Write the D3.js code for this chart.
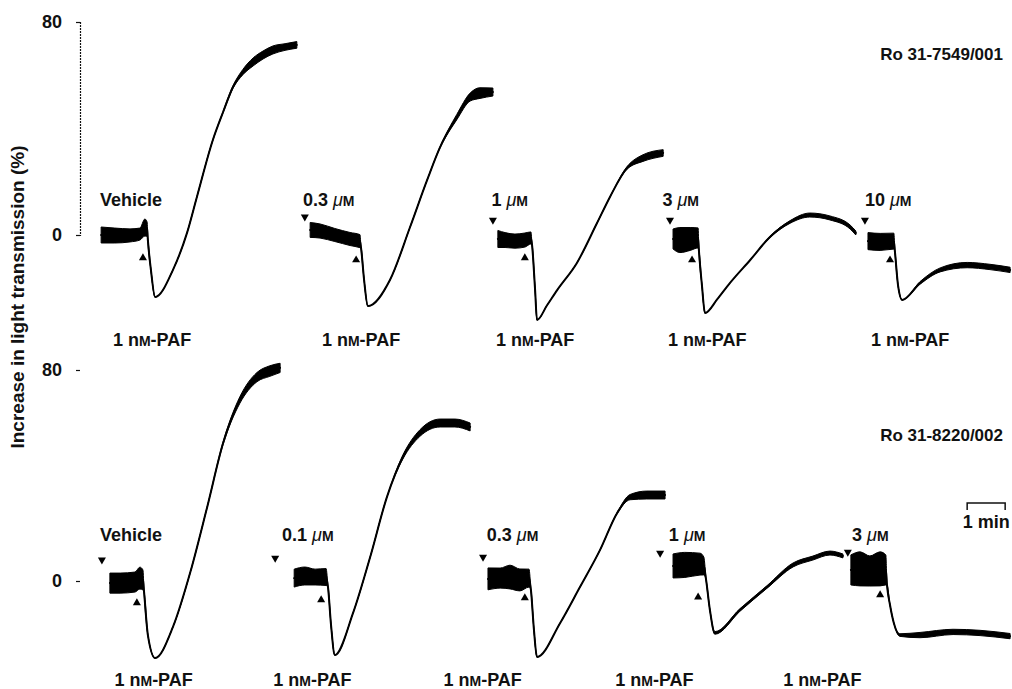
<!DOCTYPE html>
<html>
<head>
<meta charset="utf-8">
<script src="https://cdn.jsdelivr.net/npm/d3@7"></script>
<style>
  html, body { margin: 0; padding: 0; background: #fff; }
  svg { display: block; }
  text { font-family: "Liberation Sans", Arial, Helvetica, sans-serif; font-weight: bold; fill: #111; }
</style>
</head>
<body>
<svg id="chart" width="1012" height="689"></svg>
<script>
// Aggregation traces: [time (min), light transmission (%), noise band (% peak-to-peak)]
const topTraces = [
  // Vehicle
  [[0.03,0,6],[0.39,-0.2,5.6],[0.79,-0.15,4.9],[1.05,0.35,4.5],[1.18,2.8,6.4],[1.24,2.2,5.3],
   [1.26,-1.9,0],[1.34,-13.1,0],[1.45,-23.3,0],[1.92,-13.1,0],[2.29,0.8,0],[2.55,14.3,0],
   [2.97,35.7,0],[3.24,46.2,0.5],[3.5,55.6,1],[3.76,61.2,2],[4.03,65,3],[4.29,67.6,3],
   [4.55,69.5,3],[4.87,70.6,2.5],[5.18,71.4,2.5]],
  // 0.3 uM
  [[5.53,1.9,5.6],[5.79,1.5,5.3],[6.18,0,4.9],[6.58,-1.5,4.9],[6.84,-2.3,4.9],
   [6.87,-4.9,0],[6.95,-16.9,0],[7.05,-26.7,0],[7.63,-16.9,0],[8.16,3.0,0],[8.61,20.7,0],
   [8.95,33,0.5],[9.39,44.3,2],[9.74,51.8,3],[10.0,53.3,4],[10.34,53.7,3]],
  // 1 uM
  [[10.47,-1.5,6.4],[10.66,-1.9,5.6],[10.92,-2.3,5.3],[11.18,-1.9,5.3],[11.34,-1.1,4.5],
   [11.37,-3.8,0],[11.45,-20.7,0],[11.5,-31.9,0],[11.76,-26.5,0],[12.03,-20.7,0],[12.55,-10.5,0],
   [13.08,4.5,0],[13.42,14.3,0],[13.87,25.2,1],[14.29,28.9,2.5],[14.82,30.8,2.5]],
  // 3 uM
  [[15.08,-1.5,7.5],[15.26,-1.9,9.4],[15.53,-1.5,8.6],[15.74,-1.1,7.5],
   [15.76,-5.6,0],[15.84,-18.8,0],[15.92,-29.3,0],[16.25,-24,0],[16.58,-18,0],[17.11,-9.4,0],
   [17.63,-0.75,0.5],[18.16,4.9,1],[18.68,7.5,1.5],[19.21,6.4,1.5],[19.74,3,1.5],[19.89,0.75,1.5]],
  // 10 uM
  [[20.21,-2.3,6.4],[20.53,-2.6,6.4],[20.89,-2.3,6],
   [20.92,-6.4,0],[21.0,-18.8,0],[21.11,-24.4,0],[21.58,-18,1],[22.11,-13.1,1.5],
   [22.82,-11.3,2],[23.42,-12,2],[23.95,-13.1,2]]
];

const bottomTraces = [
  // Vehicle
  [[0.26,-0.8,7.6],[0.53,-0.8,7.6],[0.92,-0.4,7.6],[1.05,1.1,8.3],[1.13,0.4,7.6],
   [1.16,-4.2,0],[1.26,-20.5,0],[1.45,-29.2,0],[1.92,-17.4,0],[2.37,3,0],[2.82,28,0],
   [3.24,52.3,1],[3.68,68.6,2.5],[4.13,77.3,3.5],[4.47,79.6,4],[4.74,80.8,3.5]],
  // 0.1 uM
  [[5.11,1.1,6.8],[5.39,1.9,6.8],[5.66,1.5,6],[5.95,1.5,6.4],
   [6.0,-2.3,0],[6.08,-16.7,0],[6.18,-28.1,0],[6.66,-12.1,0],[7.11,9.1,0],[7.55,31.8,0],
   [7.97,47,1.5],[8.42,56.1,2.5],[8.95,59.9,3],[9.34,59.9,3],[9.74,58.4,3]],
  // 0.3 uM
  [[10.21,0.8,8.3],[10.53,1.1,7.6],[10.79,1.5,9],[11.05,0.4,8.3],[11.29,1.1,6.8],
   [11.34,-3.4,0],[11.42,-18.6,0],[11.5,-28.8,0],[12.11,-15.9,0],[12.63,-2.3,0],
   [13.16,11.8,0],[13.61,25.8,0.5],[13.95,31.8,2],[14.39,32.6,3],[14.87,32.6,3]],
  // 1 uM
  [[15.08,5.7,9.1],[15.39,6.1,9.5],[15.79,6.4,8.3],[15.89,5.7,6.8],
   [15.95,0.4,0],[16.05,-11,0],[16.18,-19.7,1],[16.84,-11,1],[17.55,-2.3,1],
   [18.24,6.1,1.5],[18.76,8.7,1.5],[19.21,10.6,1.5],[19.55,9.5,1.5]],
  // 3 uM
  [[19.76,4.2,11.4],[20.0,4.6,12.9],[20.26,3.8,11.4],[20.53,4.6,12.9],[20.68,4.2,11.4],
   [20.71,-1.5,0],[20.79,-9.1,0],[20.89,-15.9,0],[21.05,-20.5,1],[21.58,-20.5,2],
   [22.45,-19.3,2],[23.16,-19.7,2],[23.95,-20.9,2]]
];

// Antagonist additions (down arrowheads) and PAF additions (up arrowheads): [time, level]
const topDrugMarks = [[5.39,6.8],[10.34,5.6],[15.0,5.6],[20.13,5.6]];
const topPafMarks = [[1.13,-8.6],[6.74,-9.4],[11.18,-8.6],[15.58,-9.4],[20.79,-9.4]];
const bottomDrugMarks = [[0.05,8.0],[4.61,8.7],[10.08,9.1],[14.74,10.6],[19.68,11.0]];
const bottomPafMarks = [[0.97,-8.3],[5.82,-7.2],[11.18,-6.4],[15.74,-6.1],[20.53,-5.3]];

// Pre-treatment labels
const topDoses = ["Vehicle", "0.3", "1", "3", "10"];
const bottomDoses = ["Vehicle", "0.1", "0.3", "1", "3"];
const topDoseLabelT = [0.0, 5.34, 10.3, 14.8, 20.13];
const bottomDoseLabelT = [0.0, 4.79, 10.18, 14.97, 19.79];
const topPafLabelT = [0.34, 5.84, 10.42, 14.95, 20.29];
const bottomPafLabelT = [0.38, 4.56, 9.04, 13.56, 17.98];
const pafLabel = ["1 n", "M", "-PAF"];
const compounds = ["Ro 31-7549/001", "Ro 31-8220/002"];
const yTicks = [0, 80];
const yTitle = "Increase in light transmission (%)";
const scaleBarStart = 22.82; // min
const scaleBarLabel = "1 min";

const svg = d3.select("#chart");
const x = d3.scaleLinear().domain([0, 24]).range([100, 1012]);
const yTop = d3.scaleLinear().domain([0, 80]).range([235, 22]);
const yBot = d3.scaleLinear().domain([0, 80]).range([581, 370]);

function drawPanel(traces, y, drugMarks, pafMarks, doses, doseT, doseBase, pafT, pafBase, showDomain) {
  const g = svg.append("g");

  // y axis: only 0 and 80 are marked
  const axis = d3.axisLeft(y).tickValues(yTicks).tickSize(4).tickSizeOuter(4).tickPadding(14);
  const ag = g.append("g").attr("transform", `translate(${80},0)`).call(axis);
  ag.select(".domain").attr("stroke", "#111").attr("stroke-width", 1.2)
    .attr("stroke-dasharray", "2,1").attr("opacity", showDomain ? 1 : 0);
  ag.selectAll(".tick line").attr("stroke", "#111").attr("stroke-width", 1.2);
  ag.selectAll(".tick text").style("font-size", "18px").attr("fill", "#111")
    .style("font-family", '"Liberation Sans", Arial, sans-serif').style("font-weight", "bold");

  const area = d3.area()
    .x(d => x(d[0]))
    .y0(d => y(d[1] - d[2] / 2))
    .y1(d => y(d[1] + d[2] / 2))
    .curve(d3.curveMonotoneX);
  const line = d3.line()
    .x(d => x(d[0]))
    .y(d => y(d[1]))
    .curve(d3.curveMonotoneX);

  g.selectAll("path.band").data(traces).join("path")
    .attr("class", "band").attr("d", area).attr("fill", "#000").attr("stroke", "#000")
    .attr("stroke-width", 1).attr("stroke-linejoin", "round");
  g.selectAll("path.trace").data(traces).join("path")
    .attr("class", "trace").attr("d", line).attr("fill", "none").attr("stroke", "#000")
    .attr("stroke-width", 2).attr("stroke-linejoin", "round").attr("stroke-linecap", "round");

  const tri = d3.symbol(d3.symbolTriangle, 28);
  g.selectAll("path.drug").data(drugMarks).join("path")
    .attr("class", "drug").attr("d", tri)
    .attr("transform", d => `translate(${x(d[0])},${y(d[1])}) rotate(180)`).attr("fill", "#000");
  g.selectAll("path.paf").data(pafMarks).join("path")
    .attr("class", "paf").attr("d", tri)
    .attr("transform", d => `translate(${x(d[0])},${y(d[1])})`).attr("fill", "#000");

  // dose labels
  doses.forEach((d, i) => {
    const t = g.append("text").attr("x", x(doseT[i])).attr("y", doseBase).style("font-size", "18px");
    if (d === "Vehicle") { t.text(d); return; }
    t.append("tspan").text(d + " ");
    t.append("tspan").text("\u03bc").style("font-style", "italic").style("font-weight", "normal");
    t.append("tspan").text("M").style("font-size", "14px");
  });

  // PAF labels
  pafT.forEach(tt => {
    const t = g.append("text").attr("x", x(tt)).attr("y", pafBase).style("font-size", "18px");
    t.append("tspan").text(pafLabel[0]);
    t.append("tspan").text(pafLabel[1]).style("font-size", "14px");
    t.append("tspan").text(pafLabel[2]);
  });
}

drawPanel(topTraces, yTop, topDrugMarks, topPafMarks, topDoses, topDoseLabelT, 206, topPafLabelT, 346, true);
drawPanel(bottomTraces, yBot, bottomDrugMarks, bottomPafMarks, bottomDoses, bottomDoseLabelT, 541, bottomPafLabelT, 686, false);

// compound names
svg.append("text").attr("x", 1003).attr("y", 60).attr("text-anchor", "end")
  .style("font-size", "17px").text(compounds[0]);
svg.append("text").attr("x", 1003).attr("y", 441).attr("text-anchor", "end")
  .style("font-size", "17px").text(compounds[1]);

// y title
svg.append("text").attr("transform", "translate(24,297) rotate(-90)")
  .attr("text-anchor", "middle").style("font-size", "19px").style("font-weight", "bold")
  .text(yTitle);

// time scale bar
const sb = svg.append("g");
const sx0 = x(scaleBarStart), sx1 = x(scaleBarStart + 1);
sb.append("path").attr("d", `M${sx0},510V503H${sx1}V510`).attr("fill", "none")
  .attr("stroke", "#111").attr("stroke-width", 1.5);
sb.append("text").attr("x", (sx0 + sx1) / 2).attr("y", 528).attr("text-anchor", "middle")
  .style("font-size", "18px").text(scaleBarLabel);
</script>
</body>
</html>
